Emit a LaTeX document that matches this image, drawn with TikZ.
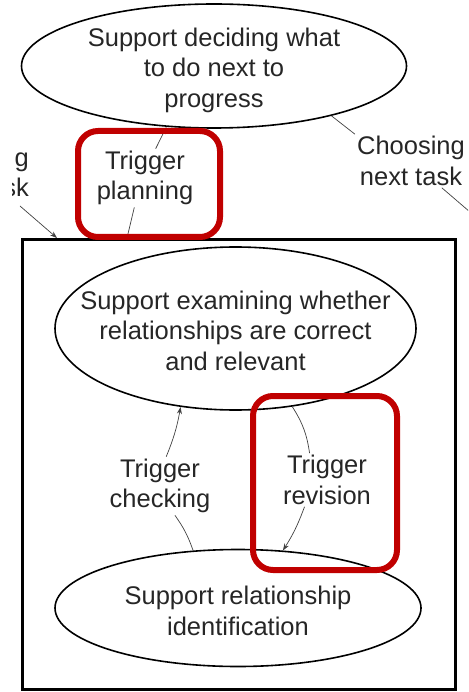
\documentclass[tikz,border=0pt]{standalone}
\usepackage{fontspec}
\setmainfont{Liberation Sans}
\usepackage{tikz}
\usetikzlibrary{shapes.geometric, arrows.meta, positioning}

\definecolor{hlred}{RGB}{192,0,0}
\tikzset{
  goal/.style={draw, ellipse, line width=1.6pt, inner sep=0pt},
  goaltext/.style={align=center, inner sep=0pt},
  trig/.style={align=center, inner sep=2pt},
  link/.style={line width=0.7pt, draw=black!75},
  linkarr/.style={link, -{Stealth[length=7pt,width=5pt]}},
  hilite/.style={draw=hlred, line width=6pt, rounded corners=20pt},
}

\begin{document}
\begin{tikzpicture}[x=1pt, y=-1pt, font=\fontsize{25.5}{30.5}\selectfont, text=black!85]
        \clip (0,0) rectangle (468,692);

        \node[draw, line width=3pt, minimum width=433, minimum height=450, anchor=north west] (cluster) at (21,238) {};

        \node[goal, minimum width=385, minimum height=124,
            label={[goaltext, yshift=-4pt]center:Support deciding what\\to do next to\\progress}] (top) at (214,66) {};
        \node[goal, minimum width=361, minimum height=163,
            label={[goaltext, yshift=-2pt]center:Support examining whether\\relationships are correct\\and relevant}] (mid) at (235.5,328.5) {};
        \node[goal, minimum width=366, minimum height=117,
            label={[goaltext, yshift=-3pt]center:Support relationship\\identification}] (bot) at (238,608) {};

        \node[trig] (plan) at (145,178) {Trigger\\planning};
        \node[trig] (check) at (160,486) {Trigger\\checking};
        \node[trig] (rev) at (327,480) {Trigger\\revision};
        \node[trig] (choose) at (411,161) {Choosing\\next task};
        \begin{scope}
            \clip (12,140) rectangle (40,205);
            \node[trig, align=right, anchor=east] (other) at (31,175) {g\\sk};
        \end{scope}

        \coordinate (planfoot) at (127,238);
        \coordinate (othertail) at (20,206);
        \coordinate (chooseout) at (470,212);

        \draw[link] (planfoot) -- (plan.250);
        \draw[linkarr] (plan.70) -- (top.232);
        \draw[link] (top.337) -- (choose.north west);
        \draw[link] (choose.-41) -- (chooseout);
        \draw[linkarr] (othertail) -- ([xshift=36pt]cluster.north west);

        \draw[link] (bot.128) to[bend right=8] (check.-63);
        \draw[linkarr] (check.78) to[bend right=6] (mid.235);
        \draw[link] (mid.306) to[bend left=12] (rev.123);
        \draw[linkarr] (rev.230) to[bend left=6] (bot.52);

        \node[hilite, minimum width=142, minimum height=106] (hlplan) at (149,184) {};
        \node[hilite, minimum width=144, minimum height=174] (hlrev) at (325,483) {};
\end{tikzpicture}
\end{document}
